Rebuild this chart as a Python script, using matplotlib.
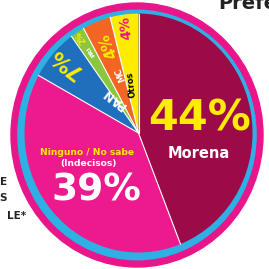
import numpy as np
import matplotlib
matplotlib.use('Agg')
import matplotlib.pyplot as plt
from matplotlib.patches import Circle

# slice data, clockwise from 12 o'clock
parties = ['Morena', 'Ninguno / No sabe', 'PAN', 'PRI', 'MC', 'Otros']
shares = [44, 39, 7, 2, 4, 4]
slice_colors = ['#9c0b48', '#ec1a8c', '#1f6fbd', '#8cc63f', '#f26522', '#ffec00']

W = 269
cx_px, cy_px = 137, 135   # ring centre in pixels
rx_px, ry_px = 126, 132   # ring radii (image is a bit stretched)


def P(px, py):
    # pixel position -> data units (ring radius = 1)
    return (px - cx_px) / rx_px, (cy_px - py) / ry_px


fig = plt.figure(figsize=(W / 100, W / 100), dpi=100)
ax = fig.add_axes([0, 0, 1, 1])

ax.add_patch(Circle((0, 0), 1.0, color='#e8168a', zorder=1))
ax.add_patch(Circle((0, 0), 0.945, color='#2eb0e4', zorder=2))

centre = (0.012, 0.015)
R = 0.905
wedges, _ = ax.pie(shares, colors=slice_colors, startangle=90, counterclock=False,
                   radius=R, center=centre, wedgeprops=dict(linewidth=0))
for w in wedges:
    w.set_zorder(3)

# white separators between slices
bounds = 90 - np.cumsum([0] + shares) * 3.6
for a in bounds[:-1]:
    t = np.deg2rad(a)
    ax.plot([centre[0], centre[0] + R * np.cos(t)], [centre[1], centre[1] + R * np.sin(t)],
            color='white', lw=0.8, zorder=4)

ax.set_aspect('auto')
ax.set_xlim(-cx_px / rx_px, (W - cx_px) / rx_px)
ax.set_ylim(-(W - cy_px) / ry_px, cy_px / ry_px)
ax.axis('off')

bold = dict(fontweight='black', family='DejaVu Sans', ha='center', va='center', zorder=6)

# Morena
ax.text(*P(200, 118), '44%', fontsize=31, color='#ffec00', **bold)
ax.text(*P(199, 153), 'Morena', fontsize=10.5, color='white', **bold)

# Ninguno
ax.text(*P(87, 152), 'Ninguno / No sabe', fontsize=6.6, color='#ffec00', **bold)
ax.text(*P(88, 163), '(Indecisos)', fontsize=6.6, color='white', **bold)
ax.text(*P(96, 190), '39%', fontsize=27, color='white', **bold)

# small slices, radial labels
ax.text(*P(114, 99), 'PAN', fontsize=8.5, color='white', rotation=142, **bold)
ax.text(*P(66, 63), '7%', fontsize=15, color='#ffec00', rotation=142, **bold)
ax.text(*P(91, 51), 'PRI', fontsize=4.5, color='white', rotation=124, **bold)
ax.text(*P(81, 37), '2%', fontsize=5.5, color='#ffec00', rotation=124, **bold)
ax.text(*P(120, 74), 'MC', fontsize=6, color='white', rotation=112, **bold)
ax.text(*P(108, 46), '4%', fontsize=11, color='#ffec00', rotation=112, **bold)
ax.text(*P(132, 84), 'Otros', fontsize=6, color='black', rotation=97, **bold)
ax.text(*P(126, 28), '4%', fontsize=10, color='#e8158a', rotation=97, **bold)

# cut-off text around the chart
side = dict(fontweight='bold', family='DejaVu Sans', color='#222222', zorder=6)
ax.text(*P(218, 9), 'Prefe', fontsize=14, ha='left', va='baseline', **side)
ax.text(*P(7, 182), 'E', fontsize=7.5, ha='right', va='center', **side)
ax.text(*P(7, 198), 'S', fontsize=7.5, ha='right', va='center', **side)
ax.text(*P(26, 216), 'LE*', fontsize=7.5, ha='right', va='center', **side)

fig.savefig('out.png', dpi=100, facecolor='white')
